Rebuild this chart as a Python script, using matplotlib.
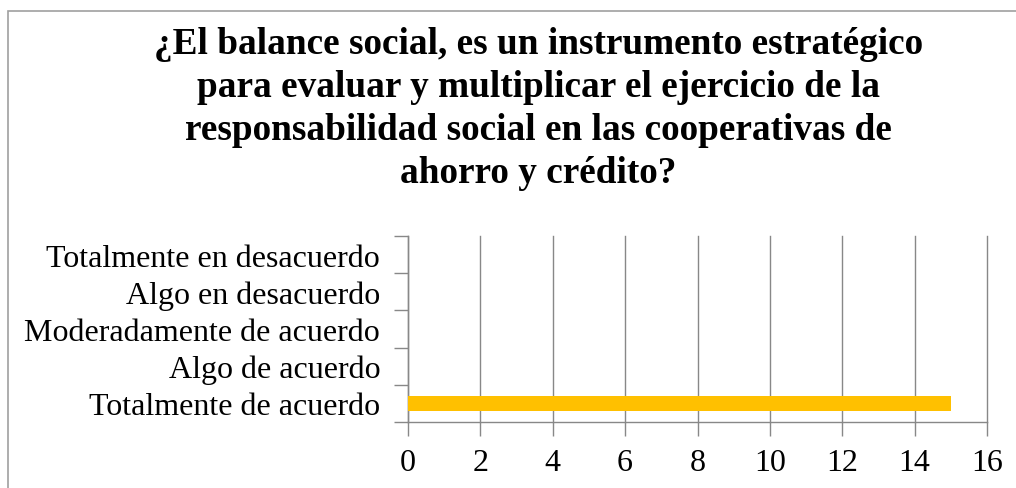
import matplotlib.pyplot as plt
from matplotlib.patches import Rectangle
import numpy as np

categories = ['Totalmente de acuerdo', 'Algo de acuerdo', 'Moderadamente de acuerdo',
              'Algo en desacuerdo', 'Totalmente en desacuerdo']
values = [15, 0, 0, 0, 0]
x_ticks = [0, 2, 4, 6, 8, 10, 12, 14, 16]
title = ('¿El balance social, es un instrumento estratégico\n'
         'para evaluar y multiplicar el ejercicio de la\n'
         'responsabilidad social en las cooperativas de\n'
         'ahorro y crédito?')

plt.rcParams['font.family'] = ['Liberation Serif', 'DejaVu Serif']

fig = plt.figure(figsize=(10.16, 4.89), dpi=100)
ax = fig.add_axes([408 / 1016, 1 - 423 / 489, (987 - 408) / 1016, (423 - 237) / 489])

# outer chart border
fig.patches.append(Rectangle((8 / 1016, -0.1), 1.2, 1 - 12 / 489 + 0.1,
                             transform=fig.transFigure, fill=False,
                             edgecolor='#a0a0a0', linewidth=1.2))

y = np.arange(len(categories))
ax.barh(y, values, height=0.4, color='#FFC000', zorder=3)

ax.set_xlim(0, 16)
ax.set_ylim(-0.5, len(categories) - 0.5)
ax.set_xticks(x_ticks)
ax.set_xticklabels([str(t) for t in x_ticks], fontsize=23)
ax.set_yticks(y)
ax.set_yticklabels(categories, fontsize=23)
ax.set_yticks(np.arange(-0.5, len(categories)), minor=True)
ax.tick_params(axis='y', which='major', length=0, pad=20)
ax.tick_params(axis='y', which='minor', length=10, color='#888888', width=1)
ax.tick_params(axis='x', length=10, color='#888888', width=1, pad=9)

ax.grid(axis='x', color='#888888', linewidth=1, zorder=0)
for gl in ax.get_xgridlines():
    gl.set_clip_on(False)
for side in ['top', 'right']:
    ax.spines[side].set_visible(False)
for side in ['left', 'bottom']:
    ax.spines[side].set_color('#888888')
    ax.spines[side].set_linewidth(1)

fig.text(0.53, 0.945, title, ha='center', va='top', fontsize=26.8,
         fontweight='bold', linespacing=1.3)

plt.savefig('out.png', dpi=100)
